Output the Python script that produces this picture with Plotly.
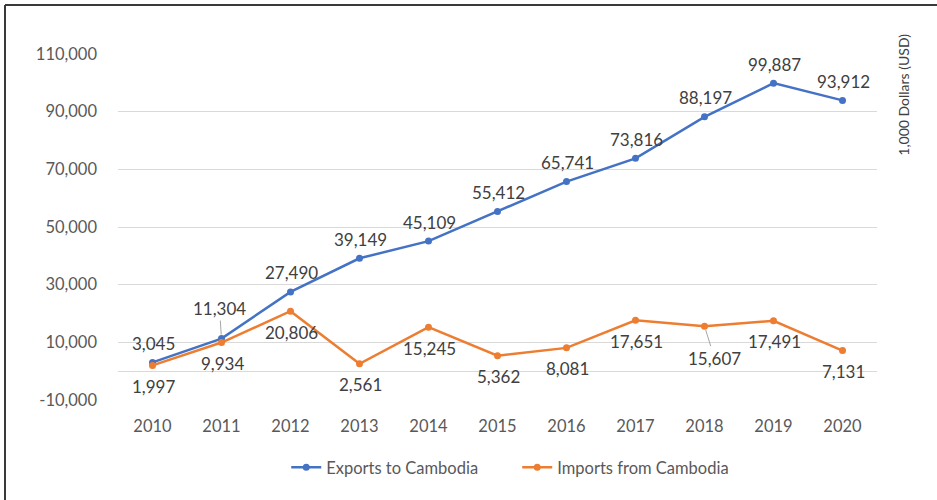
import plotly.graph_objects as go

# Trade with Cambodia, thousands of US dollars
years = ["2010", "2011", "2012", "2013", "2014", "2015", "2016", "2017", "2018", "2019", "2020"]
exports = [3045, 11304, 27490, 39149, 45109, 55412, 65741, 73816, 88197, 99887, 93912]
imports = [1997, 9934, 20806, 2561, 15245, 5362, 8081, 17651, 15607, 17491, 7131]
y_ticks = [-10000, 10000, 30000, 50000, 70000, 90000, 110000]

BLUE = "#4472C4"
ORANGE = "#ED7D31"
FONT = "Lato"
LABEL_COLOR = "#404040"
TICK_COLOR = "#595959"
LABEL_SIZE = 17


def fmt(v):
    return f"{v:,}"


fig = go.Figure()
fig.add_trace(go.Scatter(
    x=years, y=exports, name="Exports to Cambodia", mode="lines+markers",
    line=dict(color=BLUE, width=2.5), marker=dict(color=BLUE, size=7),
))
fig.add_trace(go.Scatter(
    x=years, y=imports, name="Imports from Cambodia", mode="lines+markers",
    line=dict(color=ORANGE, width=2.5), marker=dict(color=ORANGE, size=7),
))

annotations = []
label_font = dict(family=FONT, size=LABEL_SIZE, color=LABEL_COLOR)

# value labels: exports above, imports below; two labels pulled out with leader lines
for i, (yr, v) in enumerate(zip(years, exports)):
    if yr == "2011":
        annotations.append(dict(
            x=i, y=v, xref="x", yref="y", text=fmt(v), showarrow=True, arrowhead=0,
            arrowwidth=1, arrowcolor="#a6a6a6", ax=-2, ay=-30, standoff=4, font=label_font,
        ))
    else:
        annotations.append(dict(
            x=i, y=v, xref="x", yref="y", text=fmt(v), showarrow=False,
            yshift=19, xshift=1, font=label_font,
        ))
for i, (yr, v) in enumerate(zip(years, imports)):
    if yr == "2018":
        annotations.append(dict(
            x=i, y=v, xref="x", yref="y", text=fmt(v), showarrow=True, arrowhead=0,
            arrowwidth=1, arrowcolor="#a6a6a6", ax=10, ay=32, standoff=4, font=label_font,
        ))
    else:
        annotations.append(dict(
            x=i, y=v, xref="x", yref="y", text=fmt(v), showarrow=False,
            yshift=-21, xshift=1, font=label_font,
        ))

# unit title on the right
annotations.append(dict(
    xref="paper", yref="paper", x=1.035, y=0.881, text="1,000 Dollars (USD)",
    textangle=-90, showarrow=False, xanchor="center", yanchor="middle",
    font=dict(family=FONT, size=14, color=LABEL_COLOR),
))

L, R, T, B = 118, 60, 54, 100
W, H = 937, 500
pw, ph = W - L - R, H - T - B

# frame lines along the top and left edges
x_left = (5 - L) / pw
x_right = (W - L) / pw
y_top = (H - B - 5) / ph
y_bot = -(B) / ph
shapes = [
    dict(type="line", xref="paper", yref="paper", x0=x_left, x1=x_right, y0=y_top, y1=y_top,
         line=dict(color="#3a3a3a", width=2)),
    dict(type="line", xref="paper", yref="paper", x0=x_left, x1=x_left, y0=y_bot, y1=y_top,
         line=dict(color="#3a3a3a", width=2)),
]

fig.update_layout(
    width=W, height=H,
    margin=dict(l=L, r=R, t=T, b=B),
    paper_bgcolor="white", plot_bgcolor="white",
    font=dict(family=FONT, color=TICK_COLOR),
    showlegend=True,
    legend=dict(
        orientation="h", x=0.526, xanchor="center", y=-0.195, yanchor="middle",
        font=dict(family=FONT, size=16.5, color=TICK_COLOR), itemwidth=30,
        entrywidth=186, traceorder="normal",
    ),
    annotations=annotations,
    shapes=shapes,
)
fig.update_xaxes(
    type="category", range=[-0.5, 10.5], showgrid=False, showline=False, ticks="",
    tickfont=dict(family=FONT, size=16.5, color=TICK_COLOR), ticklabelstandoff=14,
)
fig.update_yaxes(
    range=[-10000, 110000], tickvals=y_ticks, ticktext=[fmt(v) for v in y_ticks],
    showgrid=True, gridcolor="#d9d9d9", gridwidth=1,
    zeroline=True, zerolinecolor="#d9d9d9", zerolinewidth=1,
    showline=False, ticks="",
    tickfont=dict(family=FONT, size=16.5, color=TICK_COLOR), ticklabelstandoff=20,
)

fig.write_html("out.html")
